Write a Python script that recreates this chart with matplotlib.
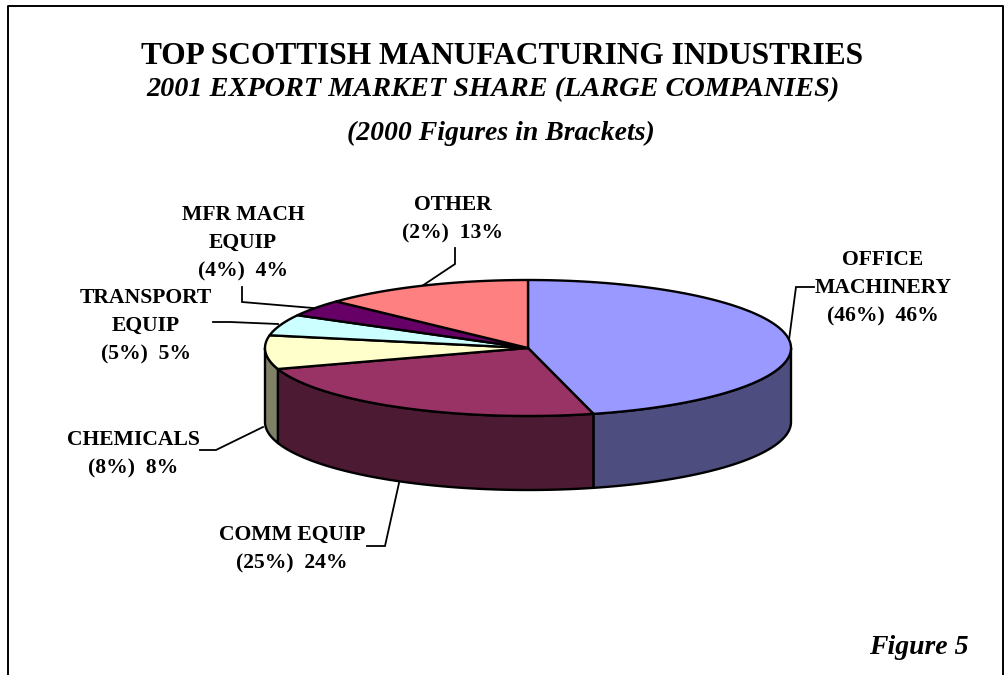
import numpy as np
import matplotlib
matplotlib.use("Agg")
import matplotlib.pyplot as plt
from matplotlib.patches import Polygon

categories = ["OFFICE\nMACHINERY", "COMM EQUIP", "CHEMICALS", "TRANSPORT\nEQUIP", "MFR MACH\nEQUIP", "OTHER"]
share_2001 = [46, 24, 8, 5, 4, 13]
share_2000 = [46, 25, 8, 5, 4, 2]
top_colors = ["#9999FF", "#993366", "#FFFFCC", "#CCFFFF", "#660066", "#FF8080"]
side_colors = ["#4D4D80", "#4D1A33", "#808066", "#668080", "#330033", "#804040"]

# pie geometry in pixels
cx, cy = 528, 348
rx, ry = 263, 68
depth = 74

# label centre (first line) and leader polyline for each slice
label_pos = [(883, 260), (292, 535), (133, 440), (146, 298), (243, 215), (453, 205)]
leaders = [
    [(814, 287), (796, 287), (789, 340)],
    [(367, 546), (385, 546), (399, 483)],
    [(200, 450), (216, 450), (263, 427)],
    [(213, 322), (230, 322), (278, 324)],
    [(242, 287), (242, 302), (313, 308)],
    [(455, 248), (455, 264), (422, 286)],
]

plt.rcParams['font.family'] = ['Liberation Serif', 'DejaVu Serif']

fig = plt.figure(figsize=(10.05, 6.75), dpi=100)
ax = fig.add_axes([0, 0, 1, 1])
ax.set_xlim(0, 1005)
ax.set_ylim(675, 0)
ax.axis('off')


def rim(a, b, dy=0):
    t = np.radians(np.linspace(a, b, max(int(abs(b - a) * 2), 2)))
    return np.column_stack([cx + rx * np.cos(t), cy + dy - ry * np.sin(t)])


# slice angles run clockwise from twelve o'clock
edges = 90 - np.cumsum([0] + share_2001) * 3.6

# side walls first, only the part on the front half of the rim
for i in range(len(share_2001)):
    a, b = edges[i], edges[i + 1]
    # front half is -180..0 in these angles
    lo, hi = max(b, -180), min(a, 0)
    if hi > lo:
        wall = np.vstack([rim(hi, lo), rim(lo, hi, depth)])
        ax.add_patch(Polygon(wall, closed=True, fc=side_colors[i], ec='black', lw=1.7, joinstyle='round', zorder=2))

for i in range(len(share_2001)):
    a, b = edges[i], edges[i + 1]
    wedge = np.vstack([[(cx, cy)], rim(a, b)])
    ax.add_patch(Polygon(wedge, closed=True, fc=top_colors[i], ec='black', lw=1.7, joinstyle='round', zorder=3))

for path in leaders:
    xs, ys = zip(*path)
    ax.plot(xs, ys, color='black', lw=1.3, zorder=1, solid_joinstyle='miter')

for name, cur, prev, (x, y) in zip(categories, share_2001, share_2000, label_pos):
    lines = name.split("\n") + [f"({prev}%)  {cur}%"]
    for k, line in enumerate(lines):
        ax.text(x, y + k * 28, line, ha='center', va='center', fontsize=15.6, fontweight='bold', color='black')

ax.text(502, 56, "TOP SCOTTISH MANUFACTURING INDUSTRIES", ha='center', va='center', fontsize=22.6, fontweight='bold')
ax.text(493, 90, "2001 EXPORT MARKET SHARE (LARGE COMPANIES)", ha='center', va='center', fontsize=20.3, fontweight='bold', style='italic')
ax.text(501, 133, "(2000 Figures in Brackets)", ha='center', va='center', fontsize=20, fontweight='bold', style='italic')
ax.text(969, 647, "Figure 5", ha='right', va='center', fontsize=20, fontweight='bold', style='italic')

# chart border, open along the bottom
ax.plot([8, 8, 1003, 1003], [675, 6, 6, 675], color='black', lw=1.4, clip_on=False)

fig.savefig("out.png", dpi=100)
